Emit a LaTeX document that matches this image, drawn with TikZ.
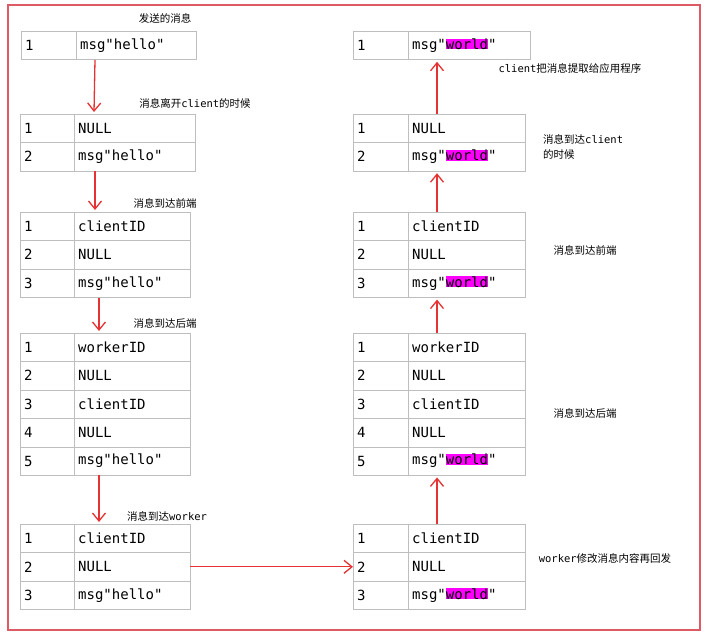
\documentclass[tikz,border=0pt]{standalone}
\usepackage{fontspec}
\setmonofont{DejaVu Sans Mono}
\newfontfamily\cjk{Noto Sans CJK SC}
\usetikzlibrary{arrows.meta,calc}
\definecolor{arrred}{RGB}{230,50,50}
\definecolor{boxred}{RGB}{222,90,100}
\definecolor{cellgray}{RGB}{190,190,190}
\definecolor{hlpink}{RGB}{255,0,255}
\newcommand\hlw{{\setlength\fboxsep{0pt}\colorbox{hlpink}{world}}}
% one table: name, x, y, index width, content width, rows
\newcommand\msgtab[6]{%
  \foreach \i/\txt in {#6}{%
    \node[cell,text width=#4-8pt] (#1i\i) at (#2,{#3+(\i-1)*28.4}) {\i};
    \node[cell,text width=#5-8pt] (#1c\i) at (#2+#4,{#3+(\i-1)*28.4}) {\txt};
  }}
\begin{document}
\begin{tikzpicture}[x=1pt,y=-1pt,
  cell/.style={draw=cellgray,anchor=north west,minimum height=28.4pt,inner sep=4pt,
    align=left,font=\ttfamily\fontsize{14}{15}\selectfont},
  lbl/.style={font=\ttfamily\fontsize{10.5}{13}\selectfont,align=left,inner sep=0pt},
  arr/.style={color=arrred,line width=1.3pt,-{Straight Barb[length=8pt,width=13pt]}}]
  \useasboundingbox (0,0) rectangle (708,636);
  \draw[boxred,line width=1.2pt] (8,5) rectangle (700,630);

  % messages on the way in
  \msgtab{L1}{21}{31}{55}{120}{1/msg"hello"}
  \msgtab{L2}{20}{114}{54}{121}{1/NULL,2/msg"hello"}
  \msgtab{L3}{20}{212}{54}{116}{1/clientID,2/NULL,3/msg"hello"}
  \msgtab{L4}{20}{333}{54}{116}{1/workerID,2/NULL,3/clientID,4/NULL,5/msg"hello"}
  \msgtab{L5}{20}{524}{54}{116}{1/clientID,2/NULL,3/msg"hello"}

  % messages on the way back
  \msgtab{R1}{353}{31}{55}{122}{1/msg"\hlw"}
  \msgtab{R2}{353}{114}{55}{117}{1/NULL,2/msg"\hlw"}
  \msgtab{R3}{353}{212}{55}{117}{1/clientID,2/NULL,3/msg"\hlw"}
  \msgtab{R4}{353}{333}{55}{117}{1/workerID,2/NULL,3/clientID,4/NULL,5/msg"\hlw"}
  \msgtab{R5}{353}{524}{55}{117}{1/clientID,2/NULL,3/msg"\hlw"}

  \node[lbl] (t1) at (165,18) {\cjk 发送的消息};
  \node[lbl] (t2) at (195,103) {{\cjk 消息离开}client{\cjk 的时候}};
  \node[lbl] (t3) at (165,203) {\cjk 消息到达前端};
  \node[lbl] (t4) at (165,323) {\cjk 消息到达后端};
  \node[lbl] (t5) at (167,516) {{\cjk 消息到达}worker};
  \node[lbl] (u1) at (570,68) {client{\cjk 把消息提取给应用程序}};
  \node[lbl,anchor=west] (u2) at (543,147) {{\cjk 消息到达}client\\[2pt]{\cjk 的时候}};
  \node[lbl] (u3) at (585,250) {\cjk 消息到达前端};
  \node[lbl] (u4) at (585,413) {\cjk 消息到达后端};
  \node[lbl] (u5) at (605,558) {worker{\cjk 修改消息内容再回发}};

  \draw[arr] ($(L1c1.south west)+(19,0)$) -- ($(L2c1.north west)+(20,-2)$);
  \draw[arr] ($(L2c2.south west)+(21,0)$) -- ($(L3c1.north west)+(21,-2)$);
  \draw[arr] ($(L3c3.south west)+(25,0)$) -- ($(L4c1.north west)+(25,-2)$);
  \draw[arr] ($(L4c5.south west)+(25,0)$) -- ($(L5c1.north west)+(25,-2)$);
  \draw[arr] (L5c2.east) -- (R5i2.west);
  \draw[arr] ($(R5c1.north west)+(29,0)$) -- ($(R4c5.south west)+(29,2)$);
  \draw[arr] ($(R4c1.north west)+(29,0)$) -- ($(R3c3.south west)+(29,2)$);
  \draw[arr] ($(R3c1.north west)+(29,0)$) -- ($(R2c2.south west)+(29,2)$);
  \draw[arr] ($(R2c1.north west)+(29,0)$) -- ($(R1c1.south west)+(29,2)$);
\end{tikzpicture}
\end{document}
